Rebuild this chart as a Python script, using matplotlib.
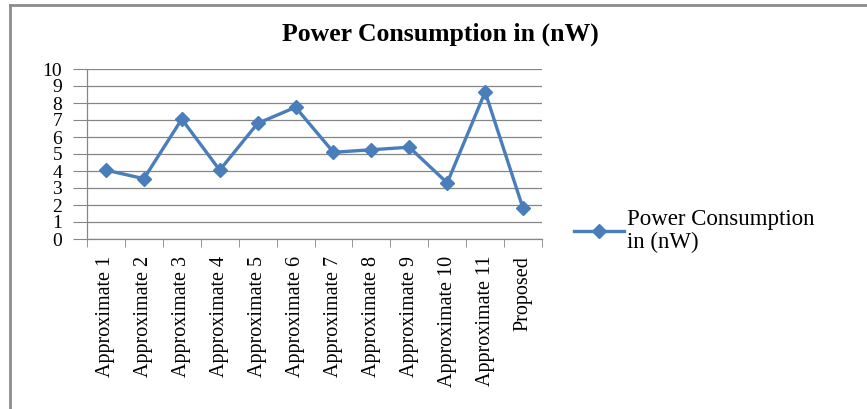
import matplotlib
matplotlib.use("Agg")
import matplotlib.pyplot as plt
from matplotlib.lines import Line2D
import numpy as np

categories = ["Approximate 1", "Approximate 2", "Approximate 3", "Approximate 4",
              "Approximate 5", "Approximate 6", "Approximate 7", "Approximate 8",
              "Approximate 9", "Approximate 10", "Approximate 11", "Proposed"]
power_nw = [4.05, 3.55, 7.05, 4.05, 6.8, 7.75, 5.1, 5.25, 5.4, 3.3, 8.65, 1.8]
series_name = "Power Consumption\nin (nW)"
title = "Power Consumption in (nW)"

plt.rcParams["font.family"] = ["Liberation Serif", "DejaVu Serif"]

fig = plt.figure(figsize=(8.67, 4.09), dpi=100)
ax = fig.add_axes([87 / 867, 1 - 239 / 409, 455 / 867, 170 / 409])

x = np.arange(len(categories))
ax.plot(x, power_nw, color="#4A7EBB", lw=2.4, marker="D", markersize=7.5,
        label=series_name, solid_joinstyle="miter")

ax.set_xlim(-0.5, len(categories) - 0.5)
ax.set_ylim(0, 10)
ax.set_yticks(range(0, 11))
ax.set_xticks(x)
ax.set_xticklabels(categories, rotation=90, fontsize=14.5)
ax.set_xticks(np.arange(-0.5, len(categories), 1), minor=True)
ax.tick_params(axis="x", which="major", length=0, pad=12)
ax.tick_params(axis="x", which="minor", length=6, color="#868686", direction="out")
ax.tick_params(axis="y", length=10, color="#868686", labelsize=14, pad=8)

ax.grid(axis="y", color="#868686", lw=0.9)
ax.set_axisbelow(True)
for side in ("top", "right"):
    ax.spines[side].set_visible(False)
for side in ("left", "bottom"):
    ax.spines[side].set_color("#868686")
    ax.spines[side].set_linewidth(0.9)

fig.text(440 / 867, 1 - 34 / 409, title, ha="center", va="center",
         fontsize=18.5, fontweight="bold")

ax.legend(loc="center left", bbox_to_anchor=(574 / 867, 1 - 231 / 409),
          bbox_transform=fig.transFigure, frameon=False, fontsize=16.5,
          handlelength=2.2, handletextpad=0.1, borderpad=0, borderaxespad=0)
for t in ax.get_legend().get_texts():
    t.set_linespacing(1.12)

# outer chart border (left and top edges only visible in the crop)
fig.add_artist(Line2D([10 / 867, 10 / 867], [0, 1 - 5 / 409], color="#8c8c8c", lw=2,
                      transform=fig.transFigure))
fig.add_artist(Line2D([10 / 867, 1], [1 - 5 / 409, 1 - 5 / 409], color="#8c8c8c", lw=2,
                      transform=fig.transFigure))

fig.savefig("out.png", dpi=100)
